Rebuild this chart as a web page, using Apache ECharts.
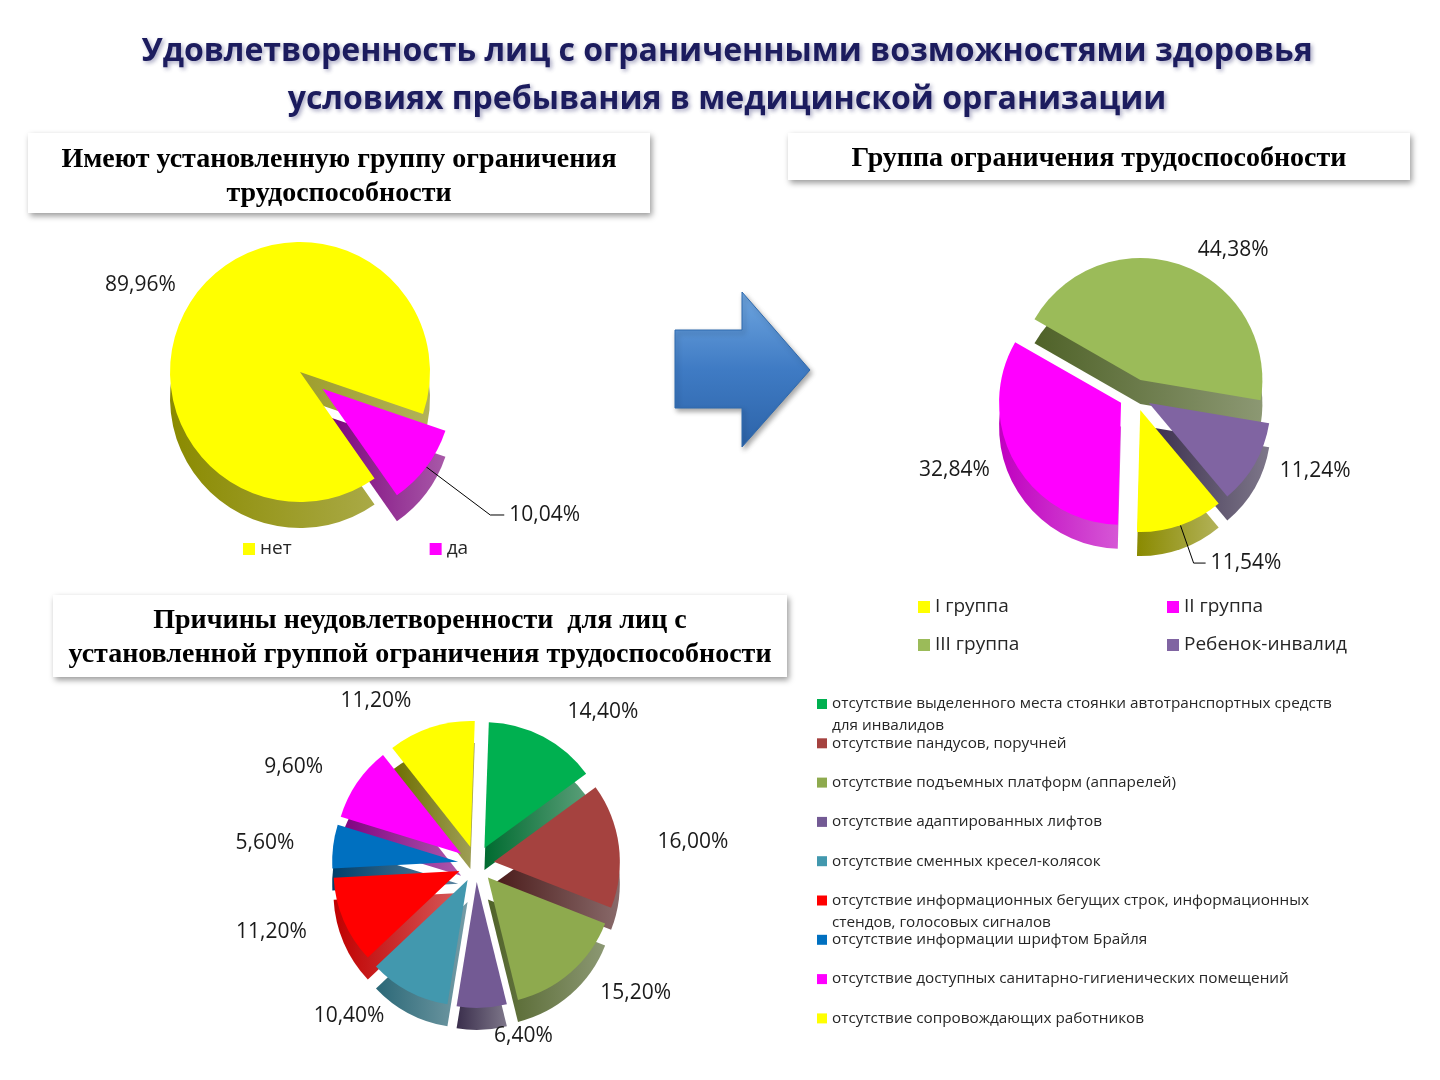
<!DOCTYPE html>
<html>
<head>
<meta charset="utf-8">
<script src="https://cdn.jsdelivr.net/npm/echarts@6/dist/echarts.min.js"></script>
<style>
html,body{margin:0;padding:0;background:#fff;}
#main{width:1440px;height:1080px;}
</style>
</head>
<body>
<div id="main"></div>
<script>
// данные: группа ограничения есть / нет
var groupNames=['нет','да'];
var groupValues=[89.96,10.04];
// группа ограничения трудоспособности
var levelNames=['I группа','II группа','III группа','Ребенок-инвалид'];
var levelValues=[11.54,32.84,44.38,11.24];
// причины неудовлетворенности
var reasonNames=[
	'отсутствие выделенного места стоянки автотранспортных средств\nдля инвалидов',
	'отсутствие пандусов, поручней',
	'отсутствие подъемных платформ (аппарелей)',
	'отсутствие адаптированных лифтов',
	'отсутствие сменных кресел-колясок',
	'отсутствие информационных бегущих строк, информационных\nстендов, голосовых сигналов',
	'отсутствие информации шрифтом Брайля',
	'отсутствие доступных санитарно-гигиенических помещений',
	'отсутствие сопровождающих работников'
];
var reasonValues=[14.40,16.00,15.20,6.40,10.40,11.20,5.60,9.60,11.20];

//цвета
var groupColors=['#FFFF00','#FF00FF'];
var groupSide=['#8A8A00','#7A007A'];
var levelColors=['#FFFF00','#FF00FF','#9BBB59','#8064A2'];
var levelSide=['#8A8A00','#C000C0','#4F6228','#3A2E4C'];
var reasonColors=['#00B050','#A5423F','#8EAA4E','#735A94','#4298AE','#FF0000','#0070C0','#FF00FF','#FFFF00'];
var reasonSide=['#006B30','#4A1B1A','#4F6228','#3A2E4C','#2B6877','#C00000','#003F6B','#800080','#6E6E00'];

var FONT='"Open Sans", "Noto Sans", sans-serif';

function pct(p){
	return p.value.toFixed(2).replace('.',',')+'%';
}

function gradSide(c){
	return new echarts.graphic.LinearGradient(0,0,1,0,[
		{offset:0,color:c},{offset:1,color:echarts.color.lift(c,0.35)}
	]);
}

//верхняя грань
function topPie(names,values,colors,sel,center,radius,start,offset,label){
	var data=[];
	for(var i=0;i<names.length;i++){
		data.push({name:names[i],value:values[i],selected:sel[i],itemStyle:{color:colors[i]}});
	}
	return {
		type:'pie',
		z:3,
		center:center,
		radius:radius,
		startAngle:start,
		selectedMode:'multiple',
		selectedOffset:offset,
		animation:false,
		avoidLabelOverlap:false,
		label:label,
		emphasis:{scale:false},
		data:data
	};
}

//боковая грань (объем)
function sidePie(names,values,colors,sel,center,radius,start,offset,depth){
	var data=[];
	for(var i=0;i<names.length;i++){
		data.push({name:names[i],value:values[i],selected:sel[i],itemStyle:{color:gradSide(colors[i])}});
	}
	return {
		type:'pie',
		z:2,
		silent:true,
		center:[center[0],center[1]+depth],
		radius:radius,
		startAngle:start,
		selectedMode:'multiple',
		selectedOffset:offset,
		animation:false,
		label:{show:false},
		labelLine:{show:false},
		emphasis:{disabled:true},
		data:data
	};
}

var labelBase={show:true,position:'outside',formatter:pct,fontFamily:FONT,fontSize:21,color:'#1a1a1a'};

var allSel=function(n){var a=[];for(var i=0;i<n;i++){a.push(true);}return a;};

var series=[];
var s1=topPie(groupNames,groupValues,groupColors,[false,true],[300,372],130,305,28,Object.assign({},labelBase));
s1.labelLine={show:false,length:14,length2:4};
s1.data[1].labelLine={show:true,length:80,length2:14,lineStyle:{color:'#000',width:1}};
var s2=topPie(levelNames,levelValues,levelColors,allSel(4),[1135,395],122,310,16,Object.assign({},labelBase));
s2.labelLine={show:false,length:16,length2:6};
s2.data[0].labelLine={show:true,length:40,length2:12,lineStyle:{color:'#000',width:1}};
var s3=topPie(reasonNames,reasonValues,reasonColors,allSel(9),[476,864],126,88,18,Object.assign({},labelBase));
s3.labelLine={show:false,length:28,length2:6};
series.push(s1,s2,s3);
series.push(sidePie(groupNames,groupValues,groupSide,[false,true],[300,372],130,305,28,26));
series.push(sidePie(levelNames,levelValues,levelSide,allSel(4),[1135,395],122,310,16,24));
series.push(sidePie(reasonNames,reasonValues,reasonSide,allSel(9),[476,864],126,88,18,22));

var legendText={fontFamily:FONT,fontSize:19,color:'#262626',lineHeight:22};
var legends=[
	{data:groupNames,left:243,top:538,padding:0,itemGap:138,itemWidth:12,itemHeight:12,icon:'rect',textStyle:legendText},
	{data:[levelNames[0],levelNames[2]],orient:'vertical',left:918,top:596,padding:0,itemGap:16,itemWidth:12,itemHeight:12,icon:'rect',textStyle:legendText},
	{data:[levelNames[1],levelNames[3]],orient:'vertical',left:1167,top:596,padding:0,itemGap:16,itemWidth:12,itemHeight:12,icon:'rect',textStyle:legendText}
];

var graphics=[];
//легенда причин: по одной строке, шаг как в оригинале; перенос второй строки - отдельным текстом
for(var k=0;k<reasonNames.length;k++){
	var cy=704+k*39.3;
	var parts=reasonNames[k].split('\n');
	legends.push({
		data:[reasonNames[k]],
		left:817,
		top:cy-11,
		padding:0,
		itemWidth:10,
		itemHeight:10,
		icon:'rect',
		formatter:function(name){return name.split('\n')[0];},
		textStyle:{fontFamily:FONT,fontSize:15.3,color:'#262626',lineHeight:22}
	});
	if(parts.length>1){
		graphics.push({type:'text',x:832,y:cy+22,z:5,style:{text:parts[1],font:'15.3px '+FONT,fill:'#262626',align:'left',verticalAlign:'middle'}});
	}
}

var boxShadow={shadowBlur:6,shadowOffsetX:2,shadowOffsetY:3,shadowColor:'rgba(0,0,0,0.4)'};
function box(x,y,w,h){
	return {type:'rect',shape:{x:x,y:y,width:w,height:h},style:Object.assign({fill:'#fff'},boxShadow),z:1};
}
function boxText(x,y,text){
	return {type:'text',x:x,y:y,z:2,style:{text:text,font:'bold 28px "Liberation Serif", serif',fill:'#000',align:'center',verticalAlign:'middle',lineHeight:34}};
}
var titleStyle={font:'bold 32px '+FONT,fill:'#1C1C5E',align:'center',verticalAlign:'middle',textShadowColor:'rgba(60,60,120,0.45)',textShadowBlur:4,textShadowOffsetX:2,textShadowOffsetY:2};

graphics.push(
	{type:'text',x:727,y:52,z:5,style:Object.assign({text:'Удовлетворенность лиц с ограниченными возможностями здоровья'},titleStyle)},
	{type:'text',x:727,y:100,z:5,style:Object.assign({text:'условиях пребывания в медицинской организации'},titleStyle)},
	box(28,133,622,80),
	boxText(339,177,'Имеют установленную группу ограничения\nтрудоспособности'),
	box(788,133,622,47),
	boxText(1099,159,'Группа ограничения трудоспособности'),
	box(53,595,734,82),
	boxText(420,638,'Причины неудовлетворенности  для лиц с\nустановленной группой ограничения трудоспособности'),
	{type:'polygon',z:1,
		shape:{points:[[675,330],[742,330],[742,292],[810,370],[742,447],[742,408],[675,408]]},
		style:{
			fill:new echarts.graphic.LinearGradient(0,0,0,1,[
				{offset:0,color:'#6FA6E0'},{offset:0.5,color:'#3F7BC4'},{offset:1,color:'#2C63A8'}
			]),
			stroke:'#2F6AAE',lineWidth:1,
			shadowBlur:5,shadowOffsetX:2,shadowOffsetY:3,shadowColor:'rgba(0,0,0,0.35)'
		}
	}
);

var chart=echarts.init(document.getElementById('main'));
chart.setOption({
	backgroundColor:'#fff',
	animation:false,
	legend:legends,
	graphic:graphics,
	series:series
});
</script>
</body>
</html>
